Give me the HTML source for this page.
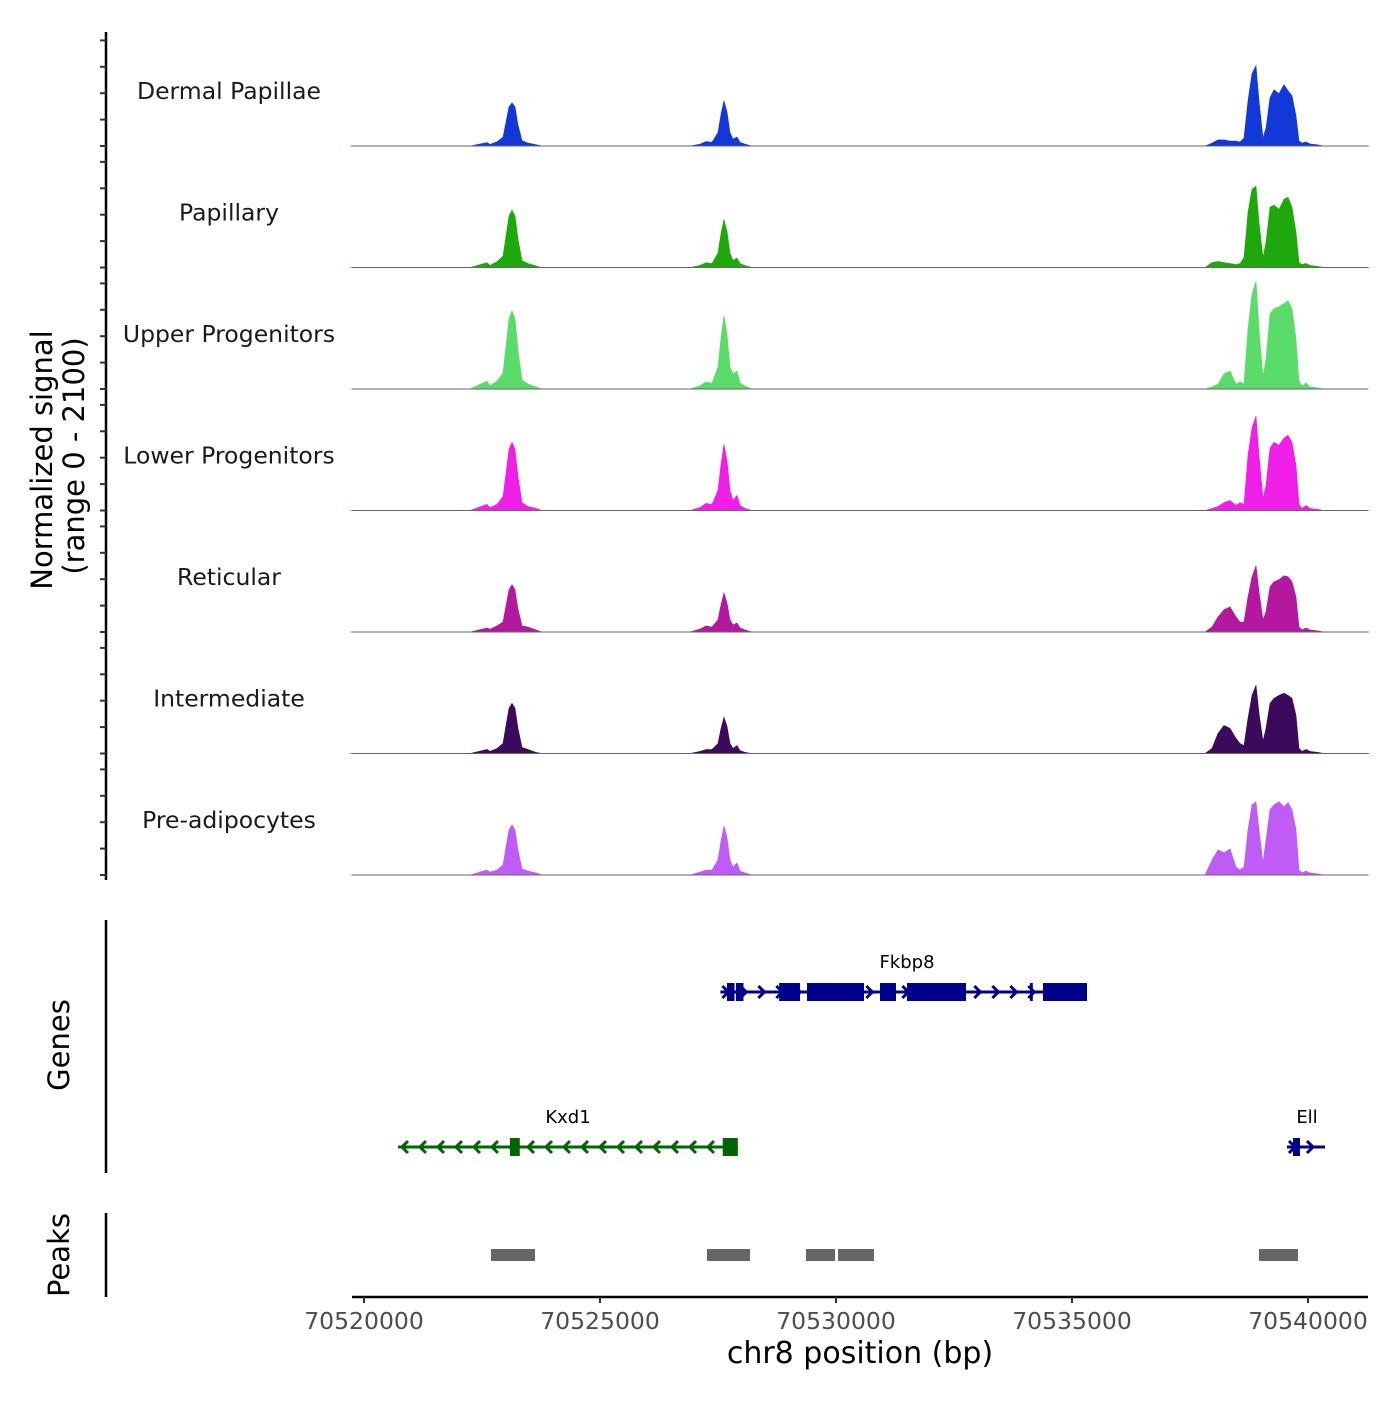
<!DOCTYPE html>
<html><head><meta charset="utf-8"><style>
body{margin:0;background:#fff;}
svg text{font-family:"DejaVu Sans","Liberation Sans",sans-serif;}
</style></head><body>
<svg id="chart" width="1400" height="1400" xmlns="http://www.w3.org/2000/svg"></svg>
<script>
const positions=[70519700,
70522246,70522606,70522669,70522818,70522945,70523008,70523072,70523136,70523199,70523263,70523347,70523475,70523644,70523771,
70526907,70527119,70527246,70527373,70527500,70527563,70527627,70527691,70527754,70527818,70527902,70527966,70528072,70528220,
70537817,70537966,70538093,70538220,70538347,70538475,70538559,70538644,70538729,70538813,70538898,70538962,70539047,70539110,70539195,70539280,70539385,70539491,70539576,70539661,70539746,70539809,70539873,70539958,70540042,70540212,70540339,
70541300];
const trackNames=["Dermal Papillae","Papillary","Upper Progenitors","Lower Progenitors","Reticular","Intermediate","Pre-adipocytes"];
const trackColors=["#1238d8","#1fa80b","#5bdc6a","#f01fe8","#b3189f","#3c0a5c","#c05cf6"];
const dermalValues=[0,0,65,30,80,165,450,740,815,740,400,100,55,25,0, 0,35,85,70,255,600,855,640,255,130,170,70,35,0, 0,55,115,115,95,95,75,150,855,1370,1520,855,150,340,910,1065,990,1160,1045,950,570,95,55,75,40,20,0, 0];
const papillaryValues=[0,0,90,40,110,215,595,975,1085,975,540,130,75,30,0, 0,40,90,75,275,645,910,685,275,135,180,75,35,0, 0,95,115,95,75,55,75,190,1045,1480,1540,855,190,475,1140,1180,1100,1290,1330,1140,665,95,55,75,40,20,0, 0];
const upperValues=[0,0,150,60,150,300,820,1330,1480,1330,740,170,95,40,0, 0,60,135,110,415,970,1390,1045,415,285,340,115,55,0, 0,40,95,285,340,95,135,95,1140,1800,2035,1140,230,570,1425,1520,1560,1615,1670,1520,950,150,55,115,40,20,0, 0];
const lowerValues=[0,0,115,55,115,265,705,1160,1290,1160,645,150,75,40,0, 0,55,135,115,380,875,1255,950,380,190,285,95,40,0, 0,40,75,150,190,95,150,115,1045,1560,1785,1045,230,475,1180,1290,1235,1370,1425,1290,855,115,40,95,40,20,0, 0];
const reticularValues=[0,0,75,55,115,190,495,800,895,800,435,115,95,40,0, 0,55,115,95,230,515,740,550,230,135,170,75,40,0, 0,95,285,420,475,285,190,190,665,1045,1255,760,230,380,855,950,990,1065,1045,950,665,95,40,75,40,20,0, 0];
const intermediateValues=[0,0,75,40,95,190,530,855,950,855,475,115,75,20,0, 0,40,75,75,190,475,685,515,190,95,150,55,20,0, 0,95,380,530,475,285,190,150,665,1100,1290,760,230,475,950,1045,1100,1140,1100,1045,720,95,40,75,40,20,0, 0];
const preValues=[0,0,95,55,95,190,530,855,950,855,475,115,75,40,0, 0,55,95,95,285,645,930,705,285,150,230,75,40,0, 0,285,475,420,495,150,95,150,855,1330,1385,855,230,665,1235,1330,1385,1290,1370,1235,855,95,40,75,40,20,0, 0];
const allValues=[dermalValues,papillaryValues,upperValues,lowerValues,reticularValues,intermediateValues,preValues];
const xTicks=[70520000,70525000,70530000,70535000,70540000];
const peakStarts=[70522690,70527267,70529364,70530043,70538962];
const peakEnds=[70523623,70528178,70529979,70530805,70539788];
const fkbpExonStarts=[70527690,70527880,70528795,70529386,70530932,70531504,70534110,70534386];
const fkbpExonEnds=[70527850,70528040,70529237,70530593,70531271,70532754,70534170,70535318];
const kxdExonStarts=[70523090,70527600];
const kxdExonEnds=[70523300,70527920];
const ellExonStarts=[70539682];
const ellExonEnds=[70539830];

const NS="http://www.w3.org/2000/svg";
const svg=document.getElementById('chart');
function mk(tag,attrs,parent){const e=document.createElementNS(NS,tag);for(const k in attrs)e.setAttribute(k,attrs[k]);(parent||svg).appendChild(e);return e;}
const X0=352,X1=1368;
function xs(bp){return 364+(bp-70520000)*0.0472;}
const trackH=121.5, firstBase=146;
function ys(v,t){return firstBase+t*trackH - v*111/2100;}

let ax=mk('line',{x1:106,y1:32,x2:106,y2:880,stroke:'#000','stroke-width':2.5});


for(let t=0;t<7;t++){for(let k=0;k<5;k++){const y=firstBase+t*trackH-k*26.4;
 let tk=mk('line',{x1:100,y1:y,x2:106,y2:y,stroke:'#333','stroke-width':2});
 
 }}
for(let t=0;t<7;t++){
 const base=firstBase+t*trackH;
 let d='M'+xs(positions[0])+','+base;
 for(let i=0;i<positions.length;i++){d+=' L'+xs(positions[i]).toFixed(1)+','+ys(allValues[t][i],t).toFixed(1);}
 d+=' L'+xs(positions[positions.length-1])+','+base+' Z';
 let p=mk('path',{d:d,fill:trackColors[t],stroke:trackColors[t],'stroke-width':0.6});
 
 
 let bl=mk('line',{x1:X0,y1:base,x2:X1,y2:base,stroke:'#666','stroke-width':1});
 
 
 let lb=mk('text',{x:229,y:base-47,'text-anchor':'middle','font-size':23.5,fill:'#1a1a1a'});
 lb.textContent=trackNames[t];
 
 
}
let yt=mk('text',{transform:'translate(52,460) rotate(-90)','text-anchor':'middle','font-size':29,fill:'#000'});
yt.textContent='Normalized signal';


let yt2=mk('text',{transform:'translate(84,456) rotate(-90)','text-anchor':'middle','font-size':29,fill:'#000'});
yt2.textContent='(range 0 - 2100)';



let ga=mk('line',{x1:106,y1:920,x2:106,y2:1173,stroke:'#000','stroke-width':2.5});


let gt=mk('text',{transform:'translate(69,1045) rotate(-90)','text-anchor':'middle','font-size':29,fill:'#000'});
gt.textContent='Genes';


function gene(name,start,end,y,col,dir,es,ee,labelX){
 const g=mk('g',{});
 
 
 mk('line',{x1:xs(start),y1:y,x2:xs(end),y2:y,stroke:col,'stroke-width':3},g);
 for(let x=xs(start)+6;x<xs(end)-4;x+=18){
  const d=dir>0?`M${x-4},${y-6} L${x+2},${y} L${x-4},${y+6}`:`M${x+4},${y-6} L${x-2},${y} L${x+4},${y+6}`;
  mk('path',{d:d,fill:'none',stroke:col,'stroke-width':3},g);}
 for(let i=0;i<es.length;i++){mk('rect',{x:xs(es[i]),y:y-9,width:xs(ee[i])-xs(es[i]),height:18,fill:col},g);}
 const t=mk('text',{x:labelX,y:y-24,'text-anchor':'middle','font-size':18,fill:'#000'},g);t.textContent=name;
}
gene('Fkbp8',70527550,70535318,992,'#00008b',1,fkbpExonStarts,fkbpExonEnds,907);
gene('Kxd1',70520720,70527920,1147,'#006400',-1,kxdExonStarts,kxdExonEnds,568);
gene('Ell',70539555,70540360,1147,'#00008b',1,ellExonStarts,ellExonEnds,1307);

let pa=mk('line',{x1:106,y1:1213,x2:106,y2:1297,stroke:'#000','stroke-width':2.5});


let pt=mk('text',{transform:'translate(69,1255) rotate(-90)','text-anchor':'middle','font-size':29,fill:'#000'});
pt.textContent='Peaks';


for(let i=0;i<peakStarts.length;i++){
 let r=mk('rect',{x:xs(peakStarts[i]),y:1249,width:xs(peakEnds[i])-xs(peakStarts[i]),height:12,fill:'#666'});
 
 
}
let xa=mk('line',{x1:X0,y1:1297,x2:X1,y2:1297,stroke:'#000','stroke-width':2.5});


for(const v of xTicks){
 let tk=mk('line',{x1:xs(v),y1:1297,x2:xs(v),y2:1303,stroke:'#333','stroke-width':2});
 
 
 let tl=mk('text',{x:xs(v),y:1329,'text-anchor':'middle','font-size':23.5,fill:'#4d4d4d'});
 tl.textContent=String(v);
 
 
}
let xt=mk('text',{x:860,y:1363,'text-anchor':'middle','font-size':30,fill:'#000'});
xt.textContent='chr8 position (bp)';


</script>
</body></html>
